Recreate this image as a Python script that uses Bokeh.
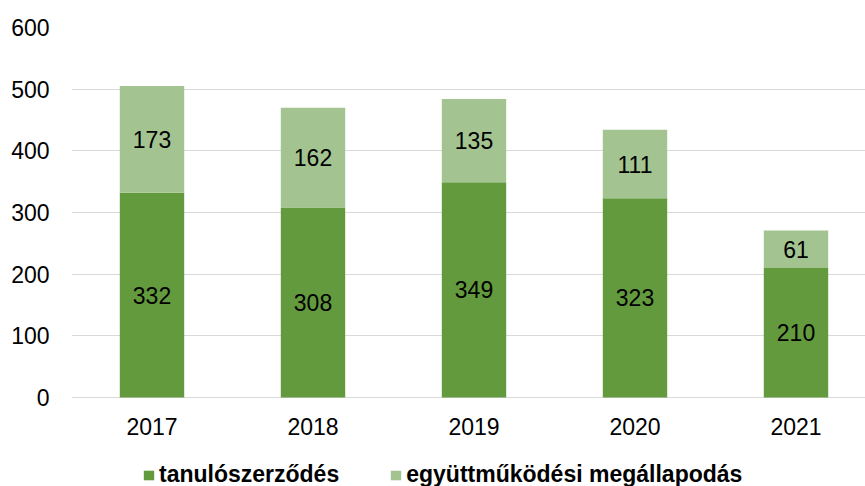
from bokeh.plotting import figure
from bokeh.models import ColumnDataSource, Range1d, FixedTicker, Legend, LegendItem
from bokeh.embed import file_html
from bokeh.resources import INLINE
from bokeh.core.properties import value

years = ["2017", "2018", "2019", "2020", "2021"]
tanulo = [332, 308, 349, 323, 210]
egyutt = [173, 162, 135, 111, 61]
y_ticks = [0, 100, 200, 300, 400, 500, 600]
series_names = ["tanulószerződés", "együttműködési megállapodás"]
colors = ["#639A3E", "#A3C490"]

FONT = "Liberation Sans"

xs = list(range(len(years)))
src = ColumnDataSource(dict(
    x=xs,
    t=tanulo,
    e=egyutt,
    top=[a + b for a, b in zip(tanulo, egyutt)],
    tmid=[a / 2 for a in tanulo],
    emid=[a + b / 2 for a, b in zip(tanulo, egyutt)],
    tl=[str(a) for a in tanulo],
    el=[str(b) for b in egyutt],
))

p = figure(width=865, height=486, output_backend="svg", toolbar_location=None,
           x_range=Range1d(-0.5, 4.4317), y_range=Range1d(-144.32, 600),
           min_border_left=71, min_border_right=0, min_border_top=27, min_border_bottom=0)

r1 = p.vbar(x="x", bottom=0, top="t", width=0.4, fill_color=colors[0], line_color=None, source=src)
r2 = p.vbar(x="x", bottom="t", top="top", width=0.4, fill_color=colors[1], line_color=None, source=src)

for ycol, tcol in (("tmid", "tl"), ("emid", "el")):
    p.text(x="x", y=ycol, text=tcol, source=src, text_align="center", text_baseline="middle",
           text_font=value(FONT), text_font_size="23px", text_color="#000000")

p.xaxis.ticker = FixedTicker(ticks=xs)
p.xaxis.major_label_overrides = {i: y for i, y in zip(xs, years)}
p.xaxis.fixed_location = 0
p.yaxis.ticker = FixedTicker(ticks=y_ticks)

for ax in (p.xaxis, p.yaxis):
    ax.axis_line_color = None
    ax.major_tick_line_color = None
    ax.minor_tick_line_color = None
    ax.major_tick_out = 0
    ax.major_tick_in = 0
    ax.major_label_text_font = FONT
    ax.major_label_text_font_size = "23px"
    ax.major_label_text_color = "#000000"
p.yaxis.major_label_standoff = 22
p.xaxis.major_label_standoff = 20

p.xgrid.grid_line_color = None
p.ygrid.grid_line_color = "#D9D9D9"
p.ygrid.grid_line_width = 1
p.outline_line_color = None
p.background_fill_color = "white"
p.border_fill_color = "white"

legend = Legend(items=[LegendItem(label=series_names[0], renderers=[r1]),
                       LegendItem(label=series_names[1], renderers=[r2])],
                orientation="horizontal", location=(71, -2),
                label_text_font=FONT, label_text_font_style="bold", label_text_font_size="23px",
                label_text_color="#000000", label_height=24,
                glyph_width=13, glyph_height=12, label_standoff=4, spacing=50,
                padding=0, margin=0, border_line_color=None, background_fill_alpha=0)
p.add_layout(legend)

open("out.html", "w").write(file_html(p, INLINE))
